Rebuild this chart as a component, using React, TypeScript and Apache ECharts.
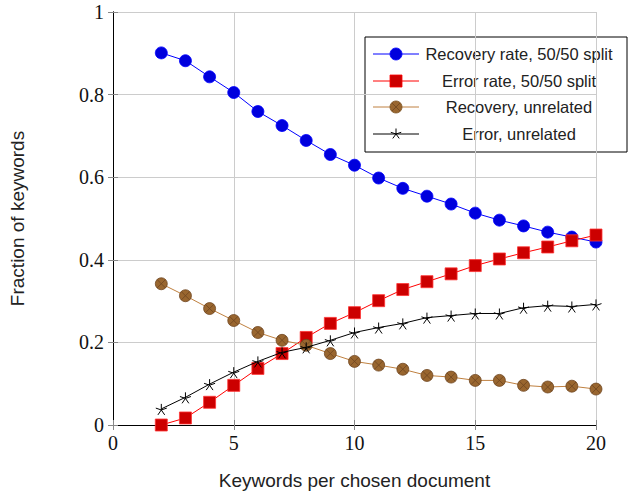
import React, { useEffect, useRef } from "react";
import * as echarts from "echarts";

const xValues = [2, 3, 4, 5, 6, 7, 8, 9, 10, 11, 12, 13, 14, 15, 16, 17, 18, 19, 20];
const recovery5050 = [0.901, 0.882, 0.843, 0.805, 0.759, 0.725, 0.689, 0.655, 0.629, 0.598, 0.573, 0.554, 0.535, 0.513, 0.496, 0.482, 0.467, 0.455, 0.443];
const error5050 = [0.0, 0.017, 0.055, 0.096, 0.137, 0.173, 0.212, 0.246, 0.272, 0.301, 0.328, 0.347, 0.366, 0.386, 0.402, 0.417, 0.431, 0.446, 0.46];
const recoveryUnrelated = [0.342, 0.313, 0.282, 0.253, 0.224, 0.205, 0.193, 0.173, 0.154, 0.145, 0.135, 0.12, 0.116, 0.108, 0.108, 0.096, 0.092, 0.094, 0.087];
const errorUnrelated = [0.039, 0.067, 0.099, 0.128, 0.154, 0.176, 0.188, 0.205, 0.224, 0.236, 0.246, 0.26, 0.265, 0.27, 0.27, 0.284, 0.289, 0.287, 0.292];
const seriesNames = ["Recovery rate, 50/50 split", "Error rate, 50/50 split", "Recovery, unrelated", "Error, unrelated"];
const xTicks = [0, 5, 10, 15, 20];
const yTicks = [0, 0.2, 0.4, 0.6, 0.8, 1];

const STAR = "path://M0,-10 L0,0 M9.51,-3.09 L0,0 M5.88,8.09 L0,0 M-5.88,8.09 L0,0 M-9.51,-3.09 L0,0";
const OTIMES = "path://M10,0 A10,10 0 1,1 -10,0 A10,10 0 1,1 10,0 Z M7.07,7.07 L-7.07,-7.07 M-7.07,7.07 L7.07,-7.07";

const pairs = (ys: number[]) => xValues.map((x, i) => [x, ys[i]]);

export default function App() {
  const ref = useRef<HTMLDivElement>(null);
  useEffect(() => {
    if (!ref.current) return;
    const chart = echarts.init(ref.current, null, { renderer: "svg" });
    const serif = "'Liberation Serif', 'Times New Roman', serif";
    const sans = "'Liberation Sans', Arial, sans-serif";
    const grid = { left: 113, top: 12, right: 36, bottom: 68 };
    const tickStyle = { show: true, inside: true, length: 5, lineStyle: { color: "#888", width: 1 } };
    const axisLine = { show: true, lineStyle: { color: "#000", width: 1 } };

    const legX = 365, legY = 37, legW = 262, legH = 115;
    const rows = [54, 81, 107, 134];
    const lineX1 = 373, lineX2 = 419, markX = 396, textX = 519;
    const colors = ["#0000ff", "#ff0000", "#bf8040", "#000000"];
    const legendChildren: any[] = [
      { type: "rect", shape: { x: legX, y: legY, width: legW, height: legH }, style: { fill: "#fff", stroke: "#000", lineWidth: 1 } },
    ];
    rows.forEach((ry, i) => {
      legendChildren.push({ type: "line", shape: { x1: lineX1, y1: ry, x2: lineX2, y2: ry }, style: { stroke: colors[i], lineWidth: 1 } });
      legendChildren.push({
        type: "text",
        style: { text: seriesNames[i], x: textX, y: ry, align: "center", verticalAlign: "middle", font: `16.5px ${sans}`, fill: "#222" },
      });
    });
    legendChildren.push({ type: "circle", shape: { cx: markX, cy: rows[0], r: 6 }, style: { fill: "#0000dd", stroke: "#0000ff", lineWidth: 0.8 } });
    legendChildren.push({ type: "rect", shape: { x: markX - 6, y: rows[1] - 6, width: 12, height: 12 }, style: { fill: "#cc0000", stroke: "#ff0000", lineWidth: 0.8 } });
    legendChildren.push({ type: "circle", shape: { cx: markX, cy: rows[2], r: 6 }, style: { fill: "#99662f", stroke: "#7a5020", lineWidth: 0.8 } });
    const d = 4.24;
    legendChildren.push({ type: "line", shape: { x1: markX - d, y1: rows[2] - d, x2: markX + d, y2: rows[2] + d }, style: { stroke: "#6e4520", lineWidth: 0.8 } });
    legendChildren.push({ type: "line", shape: { x1: markX - d, y1: rows[2] + d, x2: markX + d, y2: rows[2] - d }, style: { stroke: "#6e4520", lineWidth: 0.8 } });
    const sr = 5.5;
    [90, 162, 234, 306, 18].forEach((a) => {
      const rad = (a * Math.PI) / 180;
      legendChildren.push({
        type: "line",
        shape: { x1: markX, y1: rows[3], x2: markX + sr * Math.cos(rad), y2: rows[3] - sr * Math.sin(rad) },
        style: { stroke: "#000", lineWidth: 1 },
      });
    });

    chart.setOption({
      animation: false,
      backgroundColor: "#fff",
      grid,
      xAxis: [
        {
          type: "value",
          min: 0,
          max: 20,
          interval: 5,
          name: "Keywords per chosen document",
          nameLocation: "middle",
          nameGap: 46,
          nameTextStyle: { fontFamily: sans, fontSize: 19, color: "#222" },
          axisLine,
          axisTick: tickStyle,
          axisLabel: { fontFamily: serif, fontSize: 20, color: "#111", margin: 8, formatter: (v: number) => (xTicks.includes(v) ? String(v) : "") },
          splitLine: { show: true, lineStyle: { color: "#cccccc", width: 1 } },
        },
        {
          type: "value",
          position: "top",
          min: 0,
          max: 20,
          interval: 5,
          axisLine,
          axisTick: tickStyle,
          axisLabel: { show: false },
          splitLine: { show: false },
        },
      ],
      yAxis: [
        {
          type: "value",
          min: 0,
          max: 1,
          interval: 0.2,
          name: "Fraction of keywords",
          nameLocation: "middle",
          nameGap: 86,
          nameTextStyle: { fontFamily: sans, fontSize: 19, color: "#222" },
          axisLine,
          axisTick: tickStyle,
          axisLabel: {
            fontFamily: serif,
            fontSize: 20,
            color: "#111",
            margin: 9,
            formatter: (v: number) => {
              const r = Math.round(v * 10) / 10;
              const t = yTicks.find((y) => Math.abs(y - r) < 1e-6);
              return t === undefined ? "" : String(t);
            },
          },
          splitLine: { show: true, lineStyle: { color: "#cccccc", width: 1 } },
        },
        {
          type: "value",
          position: "right",
          min: 0,
          max: 1,
          interval: 0.2,
          axisLine,
          axisTick: tickStyle,
          axisLabel: { show: false },
          splitLine: { show: false },
        },
      ],
      graphic: [{ type: "group", children: legendChildren, z: 100 }],
      series: [
        {
          name: seriesNames[0],
          type: "line",
          data: pairs(recovery5050),
          symbol: "circle",
          symbolSize: 12,
          lineStyle: { color: "#0000ff", width: 1 },
          itemStyle: { color: "#0000dd", borderColor: "#0000ff", borderWidth: 0.8 },
          z: 2,
        },
        {
          name: seriesNames[1],
          type: "line",
          data: pairs(error5050),
          symbol: "rect",
          symbolSize: 12,
          lineStyle: { color: "#ff0000", width: 1 },
          itemStyle: { color: "#cc0000", borderColor: "#ff3333", borderWidth: 0.8 },
          z: 3,
        },
        {
          name: seriesNames[2],
          type: "line",
          data: pairs(recoveryUnrelated),
          symbol: OTIMES,
          symbolSize: 12,
          lineStyle: { color: "#bf8040", width: 1 },
          itemStyle: { color: "#99662f", borderColor: "#6e4520", borderWidth: 0.8 },
          z: 4,
        },
        {
          name: seriesNames[3],
          type: "line",
          data: pairs(errorUnrelated),
          symbol: STAR,
          symbolSize: 11,
          symbolOffset: [0, 0.5],
          lineStyle: { color: "#000000", width: 1 },
          itemStyle: { color: "none", borderColor: "#000", borderWidth: 1 },
          z: 5,
        },
      ],
    });
    return () => chart.dispose();
  }, []);
  return <div ref={ref} style={{ position: "absolute", left: 0, top: 0, width: 632, height: 495 }} />;
}
